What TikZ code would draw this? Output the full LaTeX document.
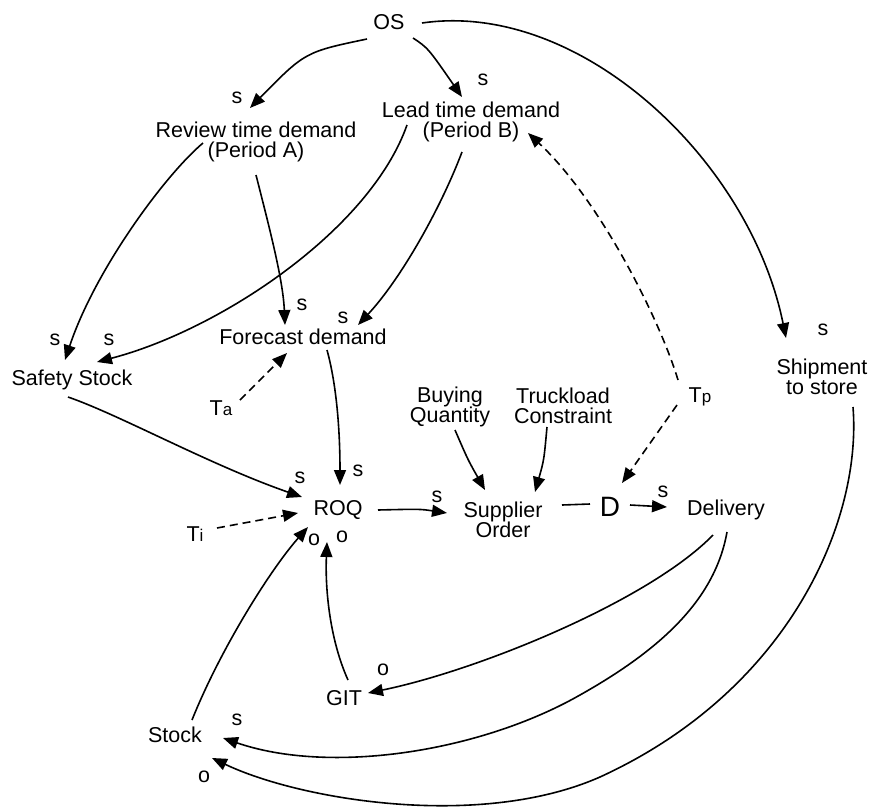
\documentclass[tikz,border=0pt]{standalone}
\usepackage{fontspec}
\setmainfont{Liberation Sans}
\usetikzlibrary{arrows.meta}
\tikzset{
  txt/.style={font=\fontsize{21.5}{20.5}\selectfont, inner sep=0pt, align=center},
  lbl/.style={font=\fontsize{21.5}{20.5}\selectfont, inner sep=0pt},
  conn/.style={line width=1.6pt, -{Triangle[length=15pt,width=12pt]}},
  dconn/.style={conn, dash pattern=on 8pt off 5pt},
  plain/.style={line width=1.6pt}
}
\newcommand{\smallsub}[1]{{\fontsize{17}{17}\selectfont #1}}
\begin{document}
\begin{tikzpicture}[x=1pt,y=-1pt]
\useasboundingbox (0,0) rectangle (871,809);
% nodes
\node[txt] (OS) at (389,22) {OS};
\node[txt] (RTD) at (256,142) {Review time demand\\(Period A)};
\node[txt] (LTD) at (471,122) {Lead time demand\\(Period B)};
\node[txt] (FD) at (303,337) {Forecast demand};
\node[txt] (SS) at (72,380) {Safety Stock};
\node[txt] (Ta) at (221,408) {T\smallsub{a}};
\node[txt] (ROQ) at (338,510) {ROQ};
\node[txt] (Ti) at (195,534) {T\smallsub{i}};
\node[txt] (SO) at (503,520) {Supplier\\Order};
\node[txt] (BQ) at (450,407) {Buying\\Quantity};
\node[txt] (TC) at (563,406) {Truckload\\Constraint};
\node[txt, font=\fontsize{28}{28}\selectfont] (D) at (610,507) {D};
\node[txt] (Del) at (726,510) {Delivery};
\node[txt] (Tp) at (700,397) {T\smallsub{p}};
\node[txt] (Ship) at (822,377) {Shipment\\to store};
\node[txt] (GIT) at (344,698) {GIT};
\node[txt] (Stock) at (175,735) {Stock};
% polarity labels
\node[lbl] (l1) at (237,98) {s};
\node[lbl] (l2) at (483,80) {s};
\node[lbl] (l3) at (302,305) {s};
\node[lbl] (l4) at (343,318) {s};
\node[lbl] (l5) at (55,340) {s};
\node[lbl] (l6) at (109,340) {s};
\node[lbl] (l7) at (300,478) {s};
\node[lbl] (l8) at (358,471) {s};
\node[lbl] (l9) at (314,540) {o};
\node[lbl] (l10) at (342,537) {o};
\node[lbl] (l11) at (437,497) {s};
\node[lbl] (l12) at (663,492) {s};
\node[lbl] (l13) at (823,330) {s};
\node[lbl] (l14) at (383,670) {o};
\node[lbl] (l15) at (237,720) {s};
\node[lbl] (l16) at (204,777) {o};
% connectors
\draw[conn] ([shift={(-22,17)}]OS.center) .. controls (305,52) .. ([shift={(-6,-34)}]RTD.center);
\draw[conn] ([shift={(24,16)}]OS.center) .. controls (428,48) .. ([shift={(-9,-25)}]LTD.center);
\draw[conn] ([shift={(33,1)}]OS.center) .. controls (580,0) and (750,160) .. ([shift={(-36,-39)}]Ship.center);
\draw[conn] ([shift={(-53,1)}]RTD.center) .. controls (165,175) and (95,270) .. ([shift={(-7,-20)}]SS.center);
\draw[conn] ([shift={(0,33)}]RTD.center) .. controls (270,230) and (283,280) .. ([shift={(-18,-12)}]FD.center);
\draw[conn] ([shift={(-64,3)}]LTD.center) .. controls (370,230) and (220,330) .. ([shift={(25,-18)}]SS.center);
\draw[conn] ([shift={(-9,30)}]LTD.center) .. controls (440,210) and (400,280) .. ([shift={(55,-12)}]FD.center);
\draw[conn] ([shift={(24,13)}]FD.center) .. controls (338,390) and (340,440) .. ([shift={(2,-25)}]ROQ.center);
\draw[conn] ([shift={(-4,17)}]SS.center) .. controls (120,415) and (210,465) .. ([shift={(-36,-13)}]ROQ.center);
\draw[dconn] ([shift={(19,-8)}]Ta.center) -- ([shift={(-16,16)}]FD.center);
\draw[dconn] ([shift={(22,-6)}]Ti.center) -- ([shift={(-40,3)}]ROQ.center);
\draw[conn] ([shift={(17,-15)}]Stock.center) .. controls (220,650) and (270,570) .. ([shift={(-30,17)}]ROQ.center);
\draw[conn] ([shift={(4,-18)}]GIT.center) .. controls (330,640) and (325,590) .. ([shift={(-11,32)}]ROQ.center);
\draw[conn] ([shift={(40,0)}]ROQ.center) .. controls (420,509) .. ([shift={(-56,-7)}]SO.center);
\draw[conn] ([shift={(5,23)}]BQ.center) .. controls (468,460) .. ([shift={(-18,-30)}]SO.center);
\draw[conn] ([shift={(-16,21)}]TC.center) .. controls (544,460) .. ([shift={(32,-28)}]SO.center);
\draw[plain] ([shift={(59,-15)}]SO.center) -- ([shift={(-20,-3)}]D.center);
\draw[conn] ([shift={(20,-2)}]D.center) -- ([shift={(-59,-3)}]Del.center);
\draw[dconn] ([shift={(-23,8)}]Tp.center) -- ([shift={(12,-24)}]D.center);
\draw[dconn] ([shift={(-22,-17)}]Tp.center) .. controls (660,320) and (600,200) .. ([shift={(57,11)}]LTD.center);
\draw[conn] ([shift={(-13,25)}]Del.center) .. controls (650,600) and (480,670) .. ([shift={(24,-5)}]GIT.center);
\draw[conn] ([shift={(1,22)}]Del.center) .. controls (715,600) and (660,650) .. (580,695) .. controls (480,752) and (330,775) .. ([shift={(48,3)}]Stock.center);
\draw[conn] ([shift={(31,30)}]Ship.center) .. controls (862,520) and (790,690) .. (600,777) .. controls (480,830) and (300,800) .. ([shift={(37,23)}]Stock.center);
\end{tikzpicture}
\end{document}
